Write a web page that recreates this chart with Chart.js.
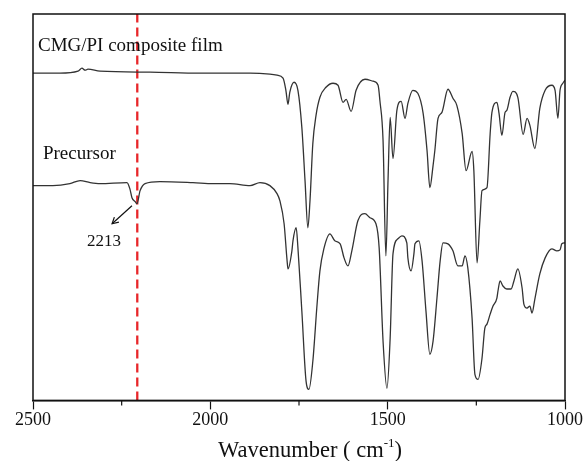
<!DOCTYPE html>
<html>
<head>
<meta charset="utf-8">
<script src="https://cdn.jsdelivr.net/npm/chart.js@4.4.1/dist/chart.umd.min.js"></script>
<style>
  html, body { margin: 0; padding: 0; background: #fff; }
  #wrap { width: 584px; height: 461px; }
</style>
</head>
<body>
<div id="wrap"><canvas id="ftir"></canvas></div>
<script>
// FTIR spectra, wavenumber (cm-1) vs transmittance (arbitrary units)

const filmWn = [2500, 2424, 2373, 2362, 2353, 2345, 2311, 2170, 2029, 1888, 1832, 1812, 1795, 1787, 1781,
  1776, 1764, 1753, 1742, 1733, 1725, 1719, 1711, 1702, 1691, 1674, 1654, 1640, 1626, 1617, 1603, 1589,
  1564, 1541, 1527, 1522, 1513, 1505, 1499, 1493, 1485, 1474, 1462, 1451, 1443, 1429, 1415, 1400, 1389,
  1381, 1372, 1367, 1358, 1347, 1330, 1316, 1305, 1290, 1279, 1262, 1257, 1248, 1240, 1234, 1220, 1211,
  1206, 1192, 1186, 1178, 1169, 1164, 1155, 1147, 1133, 1118, 1107, 1099, 1085, 1071, 1056, 1037, 1028,
  1020, 1014, 1006, 1000];
const filmT = [326, 326, 328, 331, 329, 330, 328, 327, 326, 326, 325, 324, 321, 309, 295,
  307, 317, 309, 272, 219, 172, 199, 256, 284, 302, 312, 316, 314, 297, 300, 288, 309,
  320, 318, 314, 299, 259, 144, 219, 282, 241, 289, 298, 281, 296, 309, 306, 286, 249,
  212, 234, 249, 281, 287, 310, 301, 294, 266, 229, 248, 229, 137, 179, 209, 212, 266,
  287, 297, 286, 264, 287, 289, 302, 308, 302, 265, 281, 274, 251, 291, 309, 314, 309,
  281, 309, 316, 319];

const precursorWn = [2500, 2444, 2396, 2367, 2339, 2311, 2235, 2227, 2221, 2212, 2207, 2198, 2184, 2142,
  2049, 1992, 1945, 1888, 1860, 1832, 1812, 1804, 1792, 1784, 1781, 1770, 1767, 1758, 1753, 1742, 1730,
  1722, 1711, 1699, 1691, 1680, 1663, 1649, 1634, 1623, 1612, 1601, 1584, 1564, 1550, 1533, 1524, 1513,
  1502, 1493, 1485, 1471, 1460, 1446, 1443, 1434, 1426, 1423, 1412, 1403, 1392, 1381, 1372, 1361, 1352,
  1344, 1330, 1316, 1302, 1290, 1282, 1274, 1262, 1254, 1245, 1234, 1226, 1220, 1211, 1203, 1192, 1189,
  1183, 1175, 1164, 1152, 1144, 1133, 1121, 1116, 1107, 1099, 1093, 1085, 1071, 1056, 1037, 1023, 1014,
  1009, 1000];
const precursorT = [214, 214, 216, 219, 217, 216, 217, 211, 202, 198, 196, 209, 216, 218,
  217, 216, 216, 214, 217, 214, 206, 199, 176, 141, 131, 149, 159, 172, 152, 89, 19,
  11, 39, 96, 129, 151, 166, 159, 156, 142, 134, 149, 179, 186, 182, 176, 152, 59,
  12, 62, 146, 161, 164, 157, 142, 129, 146, 156, 159, 139, 89, 46, 59, 102, 139,
  157, 156, 149, 134, 134, 144, 132, 82, 26, 21, 42, 72, 76, 86, 94, 102, 109,
  119, 114, 111, 111, 119, 131, 112, 96, 92, 94, 87, 101, 126, 142, 151, 149, 150,
  156, 157];

const xTicks = [2500, 2000, 1500, 1000];
const minorTicks = [2250, 1750, 1250];
const markerWn = 2206; // nitrile band marked "2213"

const toPoints = (xs, ys) => xs.map((x, i) => ({ x: x, y: ys[i] }));

const SERIF = "'Liberation Serif', 'Times New Roman', serif";
const Y_MIN = 0;
const Y_MAX = 385;

// frame, minor ticks, text labels, arrow and axis title
const decorPlugin = {
  id: "decor",
  afterDraw(chart) {
    const { ctx, chartArea: a, scales } = chart;
    const sx = scales.x;
    const sy = scales.y;
    ctx.save();

    ctx.strokeStyle = "#111";
    ctx.lineWidth = 1.5;
    ctx.strokeRect(a.left, a.top, a.right - a.left, a.bottom - a.top);

    // minor ticks (shorter)
    ctx.lineWidth = 1.2;
    minorTicks.forEach((v) => {
      const px = sx.getPixelForValue(v);
      ctx.beginPath();
      ctx.moveTo(px, a.bottom);
      ctx.lineTo(px, a.bottom + 5);
      ctx.stroke();
    });

    ctx.fillStyle = "#111";
    ctx.textBaseline = "alphabetic";
    ctx.textAlign = "left";
    ctx.font = "19px " + SERIF;
    ctx.fillText("CMG/PI composite film", sx.getPixelForValue(2486), sy.getPixelForValue(348));
    ctx.fillText("Precursor", sx.getPixelForValue(2472), sy.getPixelForValue(241));
    ctx.textAlign = "center";
    ctx.font = "17px " + SERIF;
    ctx.fillText("2213", sx.getPixelForValue(2300), sy.getPixelForValue(154));

    // arrow to the 2213 band
    const x0 = sx.getPixelForValue(2221), y0 = sy.getPixelForValue(194);
    const x1 = sx.getPixelForValue(2277), y1 = sy.getPixelForValue(176);
    ctx.lineWidth = 1.2;
    ctx.beginPath();
    ctx.moveTo(x0, y0);
    ctx.lineTo(x1, y1);
    ctx.stroke();
    const ang = Math.atan2(y1 - y0, x1 - x0);
    ctx.beginPath();
    ctx.moveTo(x1 - 7 * Math.cos(ang - 0.5), y1 - 7 * Math.sin(ang - 0.5));
    ctx.lineTo(x1, y1);
    ctx.lineTo(x1 - 7 * Math.cos(ang + 0.5), y1 - 7 * Math.sin(ang + 0.5));
    ctx.stroke();

    // axis title with superscript, sits a little right of centre like the original
    const main = "Wavenumber ( cm";
    const sup = "-1";
    const tail = ")";
    ctx.textAlign = "left";
    ctx.font = "22.5px " + SERIF;
    const wMain = ctx.measureText(main).width;
    const wTail = ctx.measureText(tail).width;
    ctx.font = "13px " + SERIF;
    const wSup = ctx.measureText(sup).width;
    const total = wMain + wSup + wTail;
    const cx = (a.left + a.right) / 2 + 11;
    const base = chart.height - 4;
    let tx = cx - total / 2;
    ctx.font = "22.5px " + SERIF;
    ctx.fillText(main, tx, base);
    tx += wMain;
    ctx.font = "13px " + SERIF;
    ctx.fillText(sup, tx, base - 10);
    tx += wSup;
    ctx.font = "22.5px " + SERIF;
    ctx.fillText(tail, tx, base);

    ctx.restore();
  },
};

const spectrumStyle = {
  borderColor: "#333",
  borderWidth: 1.3,
  pointRadius: 0,
  cubicInterpolationMode: "monotone",
  fill: false,
};

new Chart(document.getElementById("ftir"), {
  type: "line",
  data: {
    datasets: [
      Object.assign({ label: "CMG/PI composite film", data: toPoints(filmWn, filmT) }, spectrumStyle),
      Object.assign({ label: "Precursor", data: toPoints(precursorWn, precursorT) }, spectrumStyle),
      {
        label: "2213",
        data: [{ x: markerWn, y: Y_MIN }, { x: markerWn, y: Y_MAX }],
        borderColor: "#e8262a",
        borderWidth: 2.3,
        borderDash: [9, 5],
        pointRadius: 0,
        fill: false,
      },
    ],
  },
  options: {
    responsive: true,
    maintainAspectRatio: false,
    animation: false,
    events: [],
    layout: {
      padding: { left: 33, right: 19, top: 14, bottom: 30 },
    },
    plugins: {
      legend: { display: false },
      tooltip: { enabled: false },
      title: { display: false },
    },
    scales: {
      x: {
        type: "linear",
        reverse: true,
        min: 1000,
        max: 2500,
        afterBuildTicks: (scale) => {
          scale.ticks = xTicks.map((v) => ({ value: v }));
        },
        grid: {
          drawOnChartArea: false,
          drawTicks: true,
          tickLength: 9,
          tickColor: "#111",
          tickWidth: 1.2,
        },
        border: { display: true, color: "#111", width: 1.5 },
        ticks: {
          color: "#111",
          padding: 0,
          maxRotation: 0,
          font: { family: SERIF, size: 18 },
          callback: (value) => String(value),
        },
      },
      y: {
        display: false,
        min: Y_MIN,
        max: Y_MAX,
      },
    },
  },
  plugins: [decorPlugin],
});
</script>
</body>
</html>
